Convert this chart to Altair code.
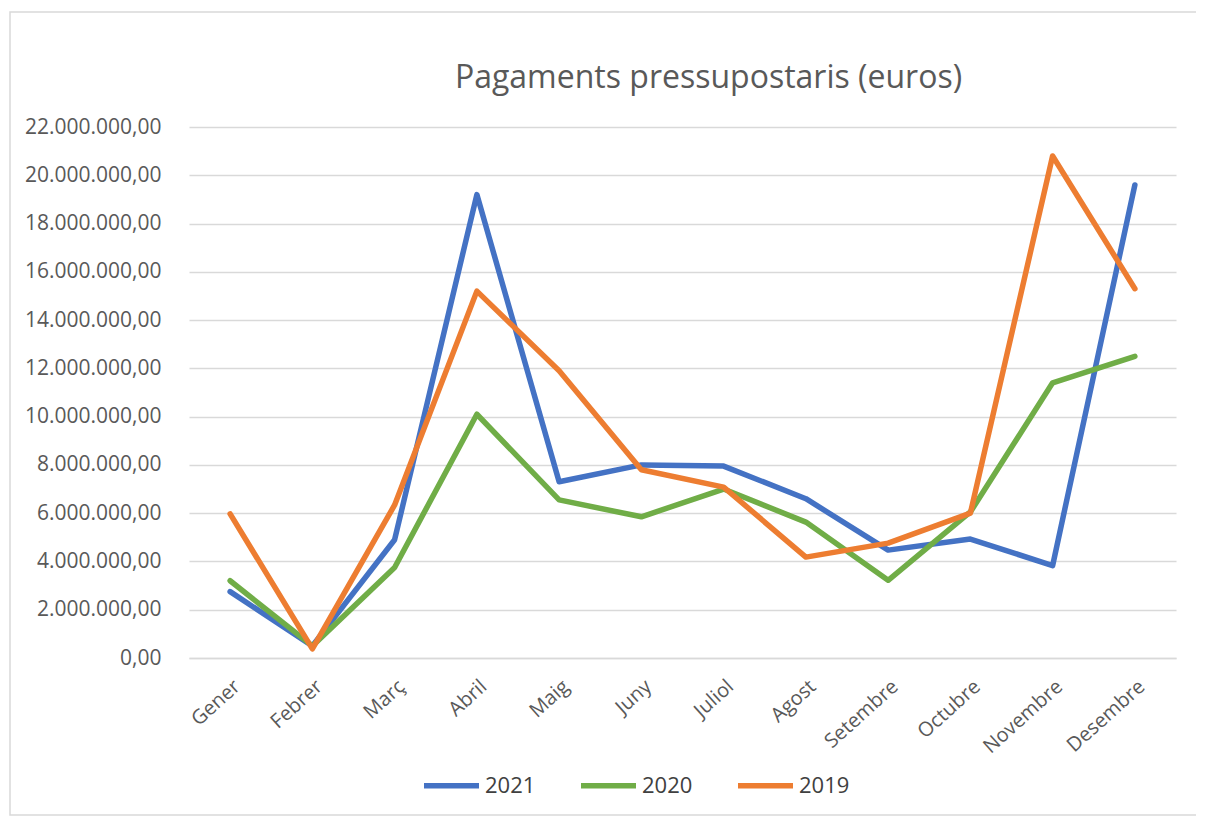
import altair as alt
import pandas as pd

months = ["Gener", "Febrer", "Març", "Abril", "Maig", "Juny", "Juliol",
          "Agost", "Setembre", "Octubre", "Novembre", "Desembre"]
series_names = ["2021", "2020", "2019"]
v2021 = [2.75e6, 0.5e6, 4.9e6, 19.2e6, 7.3e6, 8.0e6, 7.95e6, 6.6e6, 4.47e6, 4.93e6, 3.83e6, 19.6e6]
v2020 = [3.2e6, 0.5e6, 3.75e6, 10.1e6, 6.55e6, 5.85e6, 7.0e6, 5.63e6, 3.22e6, 6.05e6, 11.4e6, 12.5e6]
v2019 = [5.97e6, 0.38e6, 6.34e6, 15.2e6, 11.9e6, 7.8e6, 7.08e6, 4.18e6, 4.76e6, 6.0e6, 20.8e6, 15.3e6]
colors = ["#4472C4", "#70AD47", "#ED7D31"]
y_ticks = [i * 2_000_000 for i in range(12)]

rows = []
for name, vals in zip(series_names, [v2021, v2020, v2019]):
    for m, v in zip(months, vals):
        rows.append({"Mes": m, "Any": name, "Valor": v})
df = pd.DataFrame(rows)

FONT = "Open Sans"
TXT = "#595959"

lines = alt.Chart(df).mark_line(strokeWidth=5.5, strokeCap="round", strokeJoin="round").encode(
    x=alt.X("Mes:N", sort=months, title=None,
            scale=alt.Scale(paddingInner=1, paddingOuter=0.5),
            axis=alt.Axis(labelAngle=-42, labelFontSize=20, labelColor=TXT, labelFont=FONT,
                          ticks=False, domain=True, domainColor="#d9d9d9", domainWidth=1.5,
                          labelPadding=18, grid=False)),
    y=alt.Y("Valor:Q", title=None,
            scale=alt.Scale(domain=[0, 22_000_000], nice=False),
            axis=alt.Axis(values=y_ticks, format=",.2f", labelFontSize=21, labelColor=TXT,
                          labelFont=FONT, ticks=False, domain=False, gridColor="#d9d9d9",
                          gridWidth=1.5, labelPadding=28)),
    color=alt.Color("Any:N", sort=series_names,
                    scale=alt.Scale(domain=series_names, range=colors),
                    legend=alt.Legend(title=None, orient="none", direction="horizontal",
                                      legendX=232, legendY=628, symbolType="stroke",
                                      symbolStrokeWidth=5.5, symbolSize=3025,
                                      labelFontSize=22, labelColor="#404040", labelFont=FONT,
                                      columnPadding=34, labelOffset=3)),
    detail="Any:N",
)

frame = alt.Chart(pd.DataFrame({"a": [0]})).mark_rect(
    filled=False, stroke="#d9d9d9", strokeWidth=1.5, clip=False
).encode(x=alt.value(-179), x2=alt.value(1011), y=alt.value(-115), y2=alt.value(688))

chart = alt.layer(frame, lines).properties(
    width=987, height=531,
    title=alt.TitleParams("Pagaments pressupostaris (euros)", fontSize=32, font=FONT,
                          color=TXT, fontWeight="normal", anchor="middle", offset=-84, dx=26),
    autosize=alt.AutoSizeParams(type="none"),
    padding={"left": 181, "top": 119, "right": 20, "bottom": 160},
).configure_view(stroke=None)

chart.save("out.html", embed_options={
    "renderer": "svg", "actions": False,
    "formatLocale": {"decimal": ",", "thousands": ".", "grouping": [3], "currency": ["", " €"]},
})
